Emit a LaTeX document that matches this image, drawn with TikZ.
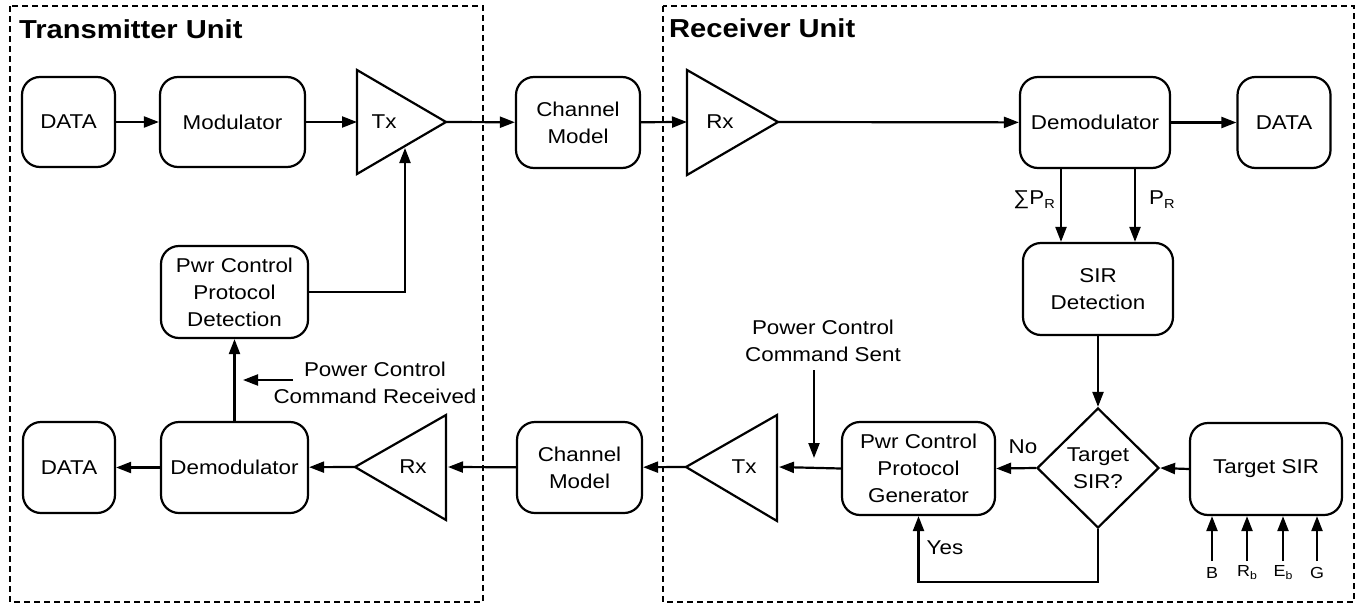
\documentclass[tikz,border=0pt]{standalone}
\usepackage{fontspec}
\setmainfont{Liberation Sans}[FakeStretch=1.12]
\usetikzlibrary{arrows.meta,shapes.geometric}
\newcommand{\subsc}[1]{\raisebox{-4pt}{\fontsize{13}{13}\selectfont #1}}
\newcommand{\subsm}[1]{\raisebox{-3pt}{\fontsize{11}{11}\selectfont #1}}
\begin{document}
\begin{tikzpicture}[x=1pt,y=-1pt,
  box/.style={draw, line width=2.2pt, rounded corners=18pt, align=center, inner sep=0pt,
    font=\fontsize{20}{27}\selectfont},
  txt/.style={align=center, inner sep=0pt, font=\fontsize{20}{27}\selectfont},
  small/.style={inner sep=0pt, font=\fontsize{16}{18}\selectfont},
  ttl/.style={inner sep=0pt, anchor=west, font=\fontsize{26}{30}\selectfont\bfseries},
  ln/.style={line width=2.2pt},
  arr/.style={line width=2.2pt, -{Triangle[length=15pt,width=11pt]}},
  unit/.style={draw, line width=1.3pt, dash pattern=on 6pt off 4pt},
  tri/.style={draw, line width=2.2pt, line join=miter}]
\useasboundingbox (0,0) rectangle (1356,605);

% unit frames
\draw[unit] (10,6) rectangle (483,602);
\draw[unit] (663,6) rectangle (1354,602);
\node[ttl] (ttx) at (19,29) {Transmitter Unit};
\node[ttl] (trx) at (669,28) {Receiver Unit};

% top row
\node[box, minimum width=93pt, minimum height=90pt] (data1) at (68.5,122) {DATA};
\node[box, minimum width=145pt, minimum height=90pt] (mod) at (232.5,122) {Modulator};
\draw[tri] (357,70) -- (446,122) -- (357,174) -- cycle;
\coordinate (tx1in) at (357,122);
\coordinate (tx1out) at (446,122);
\coordinate (tx1bot) at (405,148);
\node[txt] (tx1) at (384,122) {Tx};
\node[box, minimum width=124pt, minimum height=91pt] (ch1) at (578,122.5) {Channel\\Model};
\draw[tri] (687,70) -- (778,122) -- (687,175) -- cycle;
\coordinate (rx1in) at (687,122);
\coordinate (rx1out) at (778,122);
\node[txt] (rx1) at (720,122) {Rx};
\node[box, minimum width=150pt, minimum height=91pt] (dem1) at (1095,122.5) {Demodulator};
\node[box, minimum width=93pt, minimum height=91pt] (data2) at (1284,122.5) {DATA};

\draw[arr] (data1) -- (mod);
\draw[arr] (mod) -- (tx1in);
\draw[arr] (tx1out) -- (ch1);
\draw[arr] (ch1) -- (rx1in);
\draw[arr] (rx1out) -- (dem1);
\draw[arr] (dem1) -- (data2);

% SIR detection
\node[box, minimum width=150pt, minimum height=92pt] (sir) at (1098,289) {SIR\\Detection};
\draw[arr] (dem1.south -| 1061,0) -- (sir.north -| 1061,0);
\draw[arr] (dem1.south -| 1135,0) -- (sir.north -| 1135,0);
\node[inner sep=0pt, anchor=east, font=\fontsize{20}{24}\selectfont] (sumpr) at (1055,200) {∑P\subsc{R}};
\node[inner sep=0pt, anchor=west, font=\fontsize{20}{24}\selectfont] (pr) at (1149,200) {P\subsc{R}};

% decision
\node[draw, diamond, line width=2.2pt, minimum width=122pt, minimum height=120pt, inner sep=0pt,
  align=center, font=\fontsize{20}{27}\selectfont] (dia) at (1098,468) {Target\\SIR?};
\draw[arr] (sir) -- (dia);
\node[box, minimum width=152pt, minimum height=92pt] (tsir) at (1266,469) {Target SIR};
\draw[arr] (tsir.west) -- (dia.east);
\foreach \xx/\nm/\lab in {1212/pb/B, 1247/prb/R\subsm{b}, 1283/peb/E\subsm{b}, 1317/pg/G}{
  \coordinate (\nm) at (\xx,561);
  \draw[arr] (\nm) -- (\nm |- tsir.south);
  \node[small] (\nm lab) at (\xx,573) {\lab};
}

% generator
\node[box, minimum width=153pt, minimum height=93pt] (gen) at (918.5,468.5) {Pwr Control\\Protocol\\Generator};
\draw[arr] (dia.west) -- (gen.east);
\node[txt] (no) at (1023,447) {No};
\coordinate (yc) at (1098,582);
\draw[arr] (dia.south) -- (yc) -| (gen.south);
\node[txt] (yes) at (945,548) {Yes};

% bottom row receiver side
\draw[tri] (777,415) -- (686,467) -- (777,521) -- cycle;
\coordinate (tx2in) at (779,467);
\coordinate (tx2out) at (686,467);
\node[txt] (tx2) at (744,467) {Tx};
\draw[arr] (gen.west) -- (tx2in);
\node[txt] (sent) at (823,341) {Power Control\\Command Sent};
\coordinate (s1) at (814,370);
\coordinate (s2) at (814,458);
\draw[arr] (s1) -- (s2);
\node[box, minimum width=125pt, minimum height=91pt] (ch2) at (579.5,467.5) {Channel\\Model};
\draw[arr] (tx2out) -- (ch2);

% bottom row transmitter side
\draw[tri] (446,415) -- (355,467) -- (446,520) -- cycle;
\coordinate (rx2in) at (448,467);
\coordinate (rx2out) at (355,467);
\node[txt] (rx2) at (413,467) {Rx};
\draw[arr] (ch2) -- (rx2in);
\node[box, minimum width=147pt, minimum height=91pt] (dem2) at (234.5,467.5) {Demodulator};
\draw[arr] (rx2out) -- (dem2);
\node[box, minimum width=92pt, minimum height=91pt] (data3) at (69,467.5) {DATA};
\draw[arr] (dem2) -- (data3);
\node[box, minimum width=147pt, minimum height=92pt] (det) at (234.5,292) {Pwr Control\\Protocol\\Detection};
\draw[arr] (dem2) -- (det);
\draw[arr] (det.east) -| (tx1bot);
\node[txt] (recv) at (375,383) {Power Control\\Command Received};
\coordinate (r1) at (293,380);
\coordinate (r2) at (243,380);
\draw[arr] (r1) -- (r2);
\end{tikzpicture}
\end{document}
